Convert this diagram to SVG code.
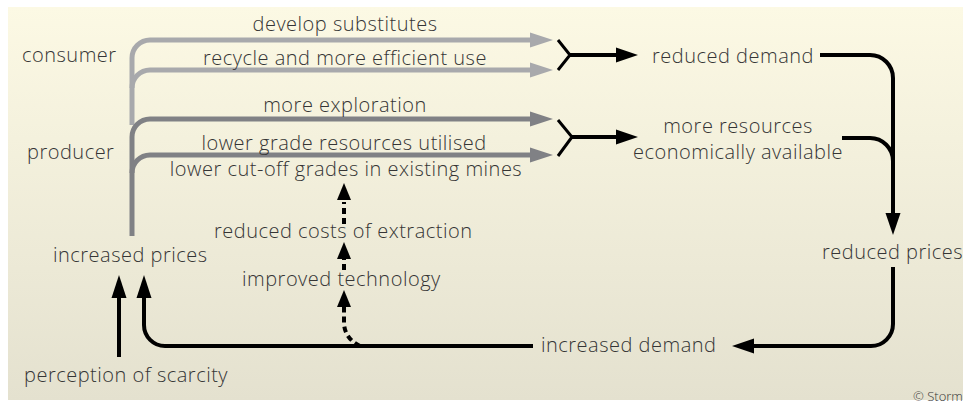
<svg xmlns="http://www.w3.org/2000/svg" width="963" height="405" viewBox="0 0 963 405">
<defs>
<linearGradient id="bg" x1="0" y1="0" x2="0" y2="1">
<stop offset="0" stop-color="#fcf9e4"/>
<stop offset="1" stop-color="#e4e1cf"/>
</linearGradient>
</defs>
<style>
text{font-family:"Open Sans","Liberation Sans",sans-serif;font-weight:300;font-size:20px;letter-spacing:0.5px;fill:#353535}
.m{text-anchor:middle}
.gl{fill:none;stroke:#a8a9ac;stroke-width:5}
.gd{fill:none;stroke:#808185;stroke-width:5}
.gla{fill:#a8a9ac}
.gda{fill:#808185}
.bk{fill:none;stroke:#000;stroke-width:4}
.fk{fill:none;stroke:#000;stroke-width:3}
.ah{fill:#000}
.ds{fill:none;stroke:#000;stroke-width:4;stroke-dasharray:6 4}
</style>
<rect x="8" y="7" width="960" height="393" fill="url(#bg)"/>
<g id="connectors">
<path class="gl" d="M132,125 V58 A18,18 0 0 1 150,40 H532"/>
<path class="gla" d="M553,40 L530,32.5 L530,47.5 Z"/>
<path class="gl" d="M132,88 A18,18 0 0 1 150,70 H532"/>
<path class="gla" d="M553,70 L530,62.5 L530,77.5 Z"/>
<path class="gd" d="M132,236 V137 A18,18 0 0 1 150,119 H532"/>
<path class="gda" d="M553,119 L530,111.5 L530,126.5 Z"/>
<path class="gd" d="M132,173 A18,18 0 0 1 150,155 H532"/>
<path class="gda" d="M553,155 L530,147.5 L530,162.5 Z"/>
<path class="fk" d="M558,40 L570,55 L558,70"/>
<path class="bk" d="M570,55 H619"/>
<path class="ah" d="M638,55 L616,47.5 L616,62.5 Z"/>
<path class="fk" d="M558,120 L572,137 L558,156"/>
<path class="bk" d="M572,137 H619"/>
<path class="ah" d="M638,137 L616,129.5 L616,144.5 Z"/>
<path class="bk" d="M820,55 H870 A23,23 0 0 1 893,78 V215"/>
<path class="ah" d="M893,235 L885.5,213 L900.5,213 Z"/>
<path class="bk" d="M842,138 H870 A23,23 0 0 1 893,161"/>
<path class="bk" d="M893,267 V324 A22,22 0 0 1 871,346 H751"/>
<path class="ah" d="M732,346 L754,338.5 L754,353.5 Z"/>
<path class="bk" d="M533,346 H165 A21,21 0 0 1 144,325 V296"/>
<path class="ah" d="M144,275 L136.5,298 L151.5,298 Z"/>
<path class="bk" d="M119,357 V296"/>
<path class="ah" d="M119,275 L111.5,298 L126.5,298 Z"/>
<path class="ds" d="M360,346 Q344,338 344,322 V306"/>
<path class="ah" d="M344,290 L351,307 L337,307 Z"/>
<path class="ds" d="M344,270 V258"/>
<path class="ah" d="M344,242 L351,259 L337,259 Z"/>
<path class="ds" d="M344,224 V202"/>
<path class="ah" d="M344,183 L351,200 L337,200 Z"/>
</g>
<g id="consumer"><text x="22" y="62">consumer</text></g>
<g id="producer"><text x="27" y="159">producer</text></g>
<g id="increased-prices"><text x="53" y="262">increased prices</text></g>
<g id="perception"><text x="24" y="382">perception of scarcity</text></g>
<g id="develop-substitutes"><text class="m" x="345" y="31">develop substitutes</text></g>
<g id="recycle"><text class="m" x="345" y="65">recycle and more efficient use</text></g>
<g id="more-exploration"><text class="m" x="345" y="112">more exploration</text></g>
<g id="lower-grade"><text class="m" x="344" y="150">lower grade resources utilised</text></g>
<g id="lower-cutoff"><text class="m" x="346" y="176">lower cut-off grades in existing mines</text></g>
<g id="reduced-costs"><text x="214" y="238">reduced costs of extraction</text></g>
<g id="improved-technology"><text x="242" y="286">improved technology</text></g>
<g id="increased-demand"><text x="541" y="352">increased demand</text></g>
<g id="reduced-demand"><text x="652" y="63">reduced demand</text></g>
<g id="more-resources"><text class="m" x="738" y="133">more resources</text><text class="m" x="738" y="159">economically available</text></g>
<g id="reduced-prices"><text x="822" y="259">reduced prices</text></g>
<g id="copyright"><text x="913" y="401" style="font-size:13px;letter-spacing:0">© Storm</text></g>
</svg>
